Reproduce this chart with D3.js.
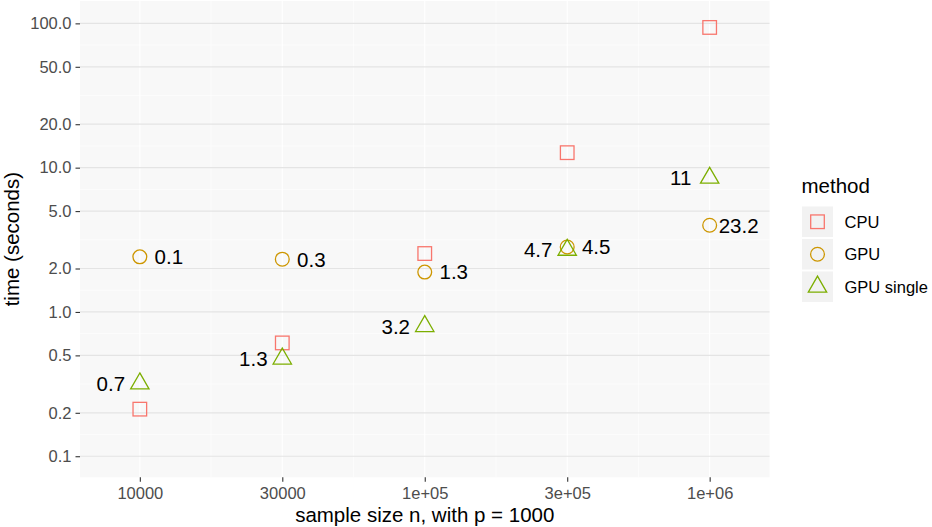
<!DOCTYPE html>
<html>
<head>
<meta charset="utf-8">
<script src="https://cdn.jsdelivr.net/npm/d3@7"></script>
<style>
  body { margin: 0; background: #fff; }
  svg { display: block; font-family: "Liberation Sans", Arial, sans-serif; }
</style>
</head>
<body>
<script>
// sample sizes (x categories)
const sizes = ["10000", "30000", "1e+05", "3e+05", "1e+06"];

// time in seconds
const cpuTime = [0.212, 0.61, 2.54, 12.7, 93.7];
const gpuTime = [2.41, 2.32, 1.89, 2.82, 3.99];
const gpuSingleTime = [0.319, 0.474, 0.796, 2.69, 8.49];

// text labels next to the GPU points
const gpuLabels = ["0.1", "0.3", "1.3", "4.5", "23.2"];
const gpuSingleLabels = ["0.7", "1.3", "3.2", "4.7", "11"];

const methods = ["CPU", "GPU", "GPU single"];
const yTicks = [0.1, 0.2, 0.5, 1, 2, 5, 10, 20, 50, 100];
const yTickLabels = ["0.1", "0.2", "0.5", "1.0", "2.0", "5.0", "10.0", "20.0", "50.0", "100.0"];

const colors = {"CPU": "#F8766D", "GPU": "#CD9600", "GPU single": "#7CAE00"};

const width = 932, height = 527;
const panel = {left: 80, right: 769.5, top: 1, bottom: 477.3};

const svg = d3.select("body").append("svg")
    .attr("width", width)
    .attr("height", height);

const x = d3.scalePoint()
    .domain(sizes)
    .range([panel.left, panel.right])
    .padding(0.42);

const y = d3.scaleLog()
    .domain([Math.pow(10, -1.146), Math.pow(10, 2.155)])
    .range([panel.bottom, panel.top]);

// panel background
svg.append("rect")
    .attr("x", panel.left).attr("y", panel.top)
    .attr("width", panel.right - panel.left)
    .attr("height", panel.bottom - panel.top)
    .attr("fill", "#F8F8F8");

const grid = svg.append("g");

// minor horizontal lines: midpoints in log space
for (let i = 0; i < yTicks.length - 1; i++) {
    const m = Math.sqrt(yTicks[i] * yTicks[i + 1]);
    grid.append("line")
        .attr("x1", panel.left).attr("x2", panel.right)
        .attr("y1", y(m)).attr("y2", y(m))
        .attr("stroke", "#fff").attr("stroke-width", 0.6);
}
// minor vertical lines between categories
for (let i = 0; i < sizes.length - 1; i++) {
    const m = (x(sizes[i]) + x(sizes[i + 1])) / 2;
    grid.append("line")
        .attr("x1", m).attr("x2", m)
        .attr("y1", panel.top).attr("y2", panel.bottom)
        .attr("stroke", "#fff").attr("stroke-width", 0.6);
}
// major vertical
grid.selectAll(".vmaj").data(sizes).enter().append("line")
    .attr("x1", d => x(d)).attr("x2", d => x(d))
    .attr("y1", panel.top).attr("y2", panel.bottom)
    .attr("stroke", "#fff").attr("stroke-width", 1.1);
// major horizontal
grid.selectAll(".hmaj").data(yTicks).enter().append("line")
    .attr("x1", panel.left).attr("x2", panel.right)
    .attr("y1", d => y(d)).attr("y2", d => y(d))
    .attr("stroke", "#E4E4E4").attr("stroke-width", 1.2);

// axes
const yAxis = svg.append("g")
    .attr("transform", `translate(${panel.left},0)`)
    .call(d3.axisLeft(y).tickValues(yTicks)
        .tickFormat((d, i) => yTickLabels[i]).tickSize(4.5).tickPadding(4));
const xAxis = svg.append("g")
    .attr("transform", `translate(0,${panel.bottom})`)
    .call(d3.axisBottom(x).tickSize(4.5).tickPadding(5));

[xAxis, yAxis].forEach(a => {
    a.select(".domain").remove();
    a.selectAll(".tick line").attr("stroke", "#333").attr("stroke-width", 1.1);
    a.selectAll(".tick text").attr("fill", "#4D4D4D")
        .style("font-size", "16.5px").style("font-family", "'Liberation Sans', Arial, sans-serif");
});
xAxis.selectAll(".tick text").attr("dy", "0.72em");

// axis titles
svg.append("text")
    .attr("x", (panel.left + panel.right) / 2).attr("y", 522)
    .attr("text-anchor", "middle")
    .style("font-size", "20.5px")
    .text("sample size n, with p = 1000");
svg.append("text")
    .attr("transform", `translate(18.5,${(panel.top + panel.bottom) / 2}) rotate(-90)`)
    .attr("text-anchor", "middle")
    .style("font-size", "20.5px")
    .text("time (seconds)");

// marker shapes
const sq = 13.6, cr = 6.9, tr = 10.6;
function drawShape(g, method, cx, cy) {
    const c = colors[method];
    if (method === "CPU") {
        g.append("rect")
            .attr("x", cx - sq / 2).attr("y", cy - sq / 2)
            .attr("width", sq).attr("height", sq)
            .attr("fill", "none").attr("stroke", c).attr("stroke-width", 1.3);
    } else if (method === "GPU") {
        g.append("circle")
            .attr("cx", cx).attr("cy", cy).attr("r", cr)
            .attr("fill", "none").attr("stroke", c).attr("stroke-width", 1.3);
    } else {
        const hx = tr * Math.sqrt(3) / 2;
        g.append("path")
            .attr("d", `M${cx},${cy - tr}L${cx + hx},${cy + tr / 2}L${cx - hx},${cy + tr / 2}Z`)
            .attr("fill", "none").attr("stroke", c).attr("stroke-width", 1.3)
            .attr("stroke-linejoin", "miter");
    }
}

const series = [
    {method: "CPU", values: cpuTime},
    {method: "GPU", values: gpuTime},
    {method: "GPU single", values: gpuSingleTime}
];

const pts = svg.append("g");
series.forEach(s => {
    s.values.forEach((v, i) => drawShape(pts, s.method, x(sizes[i]), y(v)));
});

// labels
const labels = svg.append("g")
    .style("font-size", "20.5px")
    .attr("text-anchor", "middle");
labels.selectAll(".gl").data(gpuLabels).enter().append("text")
    .attr("x", (d, i) => x(sizes[i]) + 29)
    .attr("y", (d, i) => y(gpuTime[i]))
    .attr("dy", "0.36em")
    .text(d => d);
labels.selectAll(".sl").data(gpuSingleLabels).enter().append("text")
    .attr("x", (d, i) => x(sizes[i]) - 29)
    .attr("y", (d, i) => y(gpuSingleTime[i]))
    .attr("dy", "0.36em")
    .text(d => d);

// legend
const legend = svg.append("g");
legend.append("text")
    .attr("x", 801.5).attr("y", 192.5)
    .style("font-size", "20.5px")
    .text("method");
methods.forEach((m, i) => {
    const ky = 206.5 + i * 32.5;
    legend.append("rect")
        .attr("x", 802).attr("y", ky)
        .attr("width", 31).attr("height", 30.5)
        .attr("fill", "#F2F2F2");
    drawShape(legend, m, 817.5, ky + 15.25);
    legend.append("text")
        .attr("x", 844.5).attr("y", ky + 15.25)
        .attr("dy", "0.36em")
        .style("font-size", "16.5px")
        .text(m);
});
</script>
</body>
</html>
